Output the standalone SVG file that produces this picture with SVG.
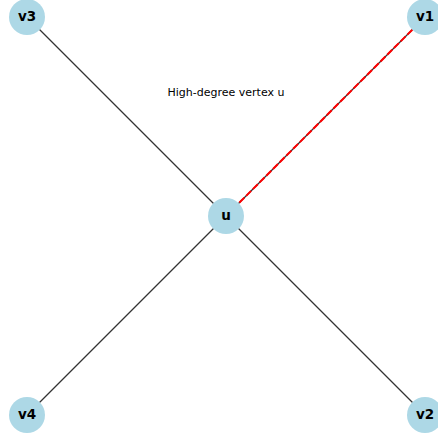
<svg xmlns="http://www.w3.org/2000/svg" width="438" height="439" viewBox="0 0 438 439">
<style>
.edge{stroke:#333;stroke-width:1.2;fill:none}
.hl{stroke:#ff0000;stroke-width:2;stroke-dasharray:7,2.5;fill:none}
.node circle{fill:#add8e6}
.node text{font-family:"DejaVu Sans",sans-serif;font-weight:bold;font-size:13.5px;text-anchor:middle;dominant-baseline:central;fill:#000}
.lbl{font-family:"DejaVu Sans",sans-serif;font-size:11px;text-anchor:middle;fill:#000}
</style>
<rect width="438" height="439" fill="#fff"/>
<g id="connectors">
<line class="edge" x1="226" y1="216" x2="27" y2="17"/>
<line class="edge" x1="226" y1="216" x2="27" y2="415"/>
<line class="edge" x1="226" y1="216" x2="425" y2="415"/>
<line class="edge" x1="226" y1="216" x2="425" y2="17"/>
<line class="hl" x1="226" y1="216" x2="425" y2="17"/>
</g>
<g id="node-u" class="node"><circle cx="226" cy="216" r="18"/><text x="226" y="215">u</text></g>
<g id="node-v1" class="node"><circle cx="425" cy="17" r="18"/><text x="425" y="16">v1</text></g>
<g id="node-v2" class="node"><circle cx="425" cy="415" r="18"/><text x="425" y="414">v2</text></g>
<g id="node-v3" class="node"><circle cx="27" cy="17" r="18"/><text x="27" y="16">v3</text></g>
<g id="node-v4" class="node"><circle cx="27" cy="415" r="18"/><text x="27" y="414">v4</text></g>
<text class="lbl" x="226" y="96">High-degree vertex u</text>
</svg>
